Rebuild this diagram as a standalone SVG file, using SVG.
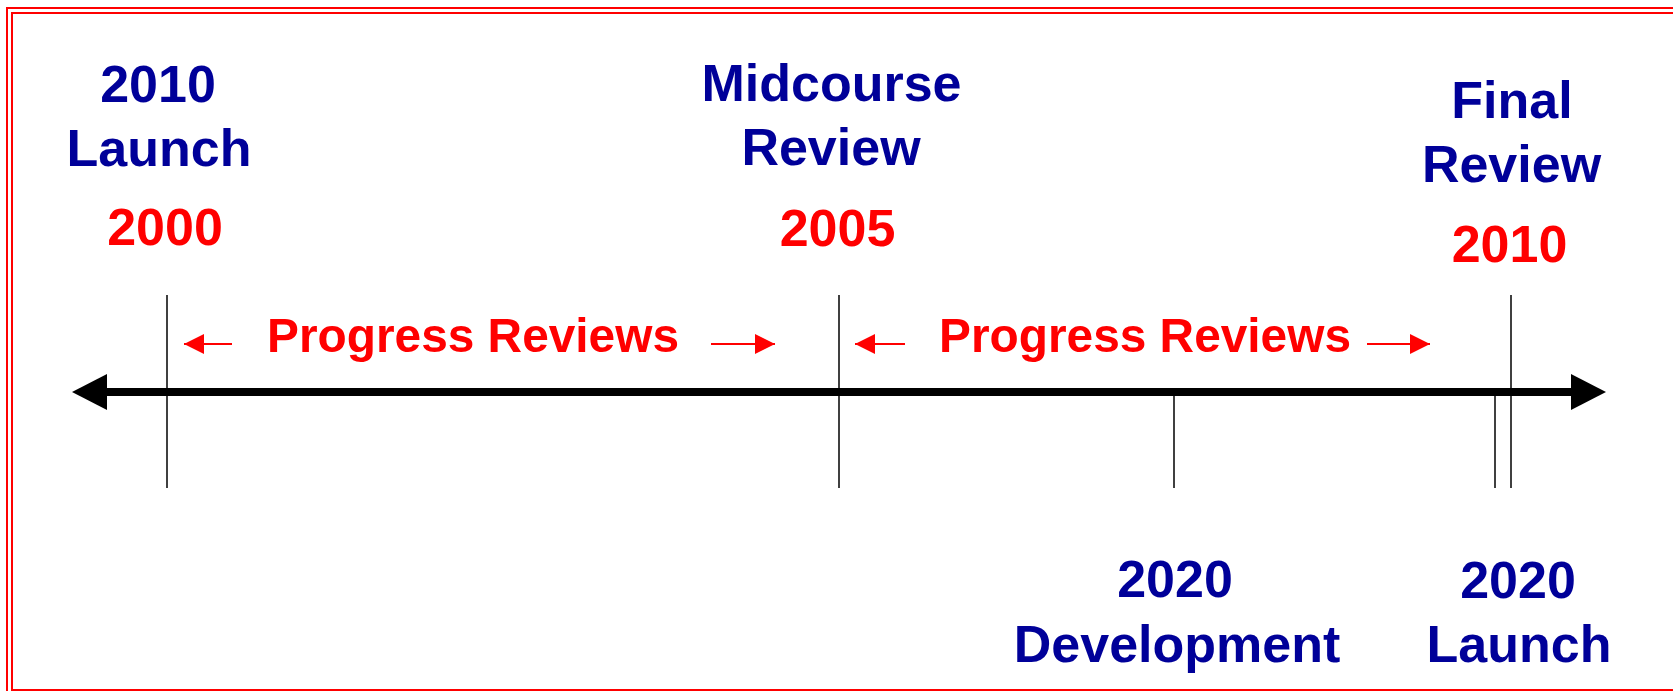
<svg xmlns="http://www.w3.org/2000/svg" width="1673" height="691" viewBox="0 0 1673 691">
<defs>
<style>
.blue{font-family:"Liberation Sans",Arial,sans-serif;font-weight:bold;font-size:52px;fill:#000099;text-anchor:middle}
.red{font-family:"Liberation Sans",Arial,sans-serif;font-weight:bold;font-size:52px;fill:#ff0000;text-anchor:middle}
.pr{font-family:"Liberation Sans",Arial,sans-serif;font-weight:bold;font-size:49px;fill:#ff0000}
.tick{stroke:#000;stroke-width:1.5;fill:none}
.rarrow{stroke:#ff0000;stroke-width:2;fill:none}
.border{fill:none;stroke:#ff0000;stroke-width:2}
</style>
<marker id="redhead" viewBox="0 0 20 20" refX="20" refY="10" markerWidth="20" markerHeight="20" markerUnits="userSpaceOnUse" orient="auto">
<path d="M0,0 L20,10 L0,20 Z" fill="#ff0000"/>
</marker>
<marker id="blackhead" viewBox="0 0 36 36" refX="34" refY="18" markerWidth="36" markerHeight="36" markerUnits="userSpaceOnUse" orient="auto">
<path d="M0,0 L36,18 L0,36 Z" fill="#000"/>
</marker>
</defs>
<rect width="1673" height="691" fill="#fff"/>
<g id="frame">
<rect class="border" x="7" y="8" width="1700" height="700"/>
<rect class="border" x="12" y="13" width="1700" height="677"/>
</g>
<g id="connectors">
<line x1="105" y1="392" x2="1573" y2="392" stroke="#000" stroke-width="8"/>
<path d="M72,392 L107,374 L107,410 Z" fill="#000"/>
<path d="M1606,392 L1571,374 L1571,410 Z" fill="#000"/>
<line class="tick" x1="167" y1="295" x2="167" y2="488"/>
<line class="tick" x1="839" y1="295" x2="839" y2="488"/>
<line class="tick" x1="1174" y1="396" x2="1174" y2="488"/>
<line class="tick" x1="1495" y1="396" x2="1495" y2="488"/>
<line class="tick" x1="1511" y1="295" x2="1511" y2="488"/>
<line class="rarrow" x1="232" y1="344" x2="184" y2="344" marker-end="url(#redhead)"/>
<line class="rarrow" x1="711" y1="344" x2="775" y2="344" marker-end="url(#redhead)"/>
<line class="rarrow" x1="905" y1="344" x2="855" y2="344" marker-end="url(#redhead)"/>
<line class="rarrow" x1="1367" y1="344" x2="1430" y2="344" marker-end="url(#redhead)"/>
</g>
<g id="launch2010">
<text class="blue" x="158" y="102">2010</text>
<text class="blue" x="159" y="166">Launch</text>
<text class="red" x="165" y="245">2000</text>
</g>
<g id="midcourse">
<text class="blue" x="831.5" y="101">Midcourse</text>
<text class="blue" x="831" y="165">Review</text>
<text class="red" x="837.5" y="246">2005</text>
</g>
<g id="final">
<text class="blue" x="1512" y="118">Final</text>
<text class="blue" x="1511.5" y="182">Review</text>
<text class="red" x="1509.5" y="262">2010</text>
</g>
<g id="progress1">
<text class="pr" x="267" y="352" textLength="412" lengthAdjust="spacingAndGlyphs">Progress Reviews</text>
</g>
<g id="progress2">
<text class="pr" x="939" y="352" textLength="412" lengthAdjust="spacingAndGlyphs">Progress Reviews</text>
</g>
<g id="development2020">
<text class="blue" x="1175" y="597">2020</text>
<text class="blue" x="1177" y="662">Development</text>
</g>
<g id="launch2020">
<text class="blue" x="1518" y="598">2020</text>
<text class="blue" x="1519" y="662">Launch</text>
</g>
</svg>
